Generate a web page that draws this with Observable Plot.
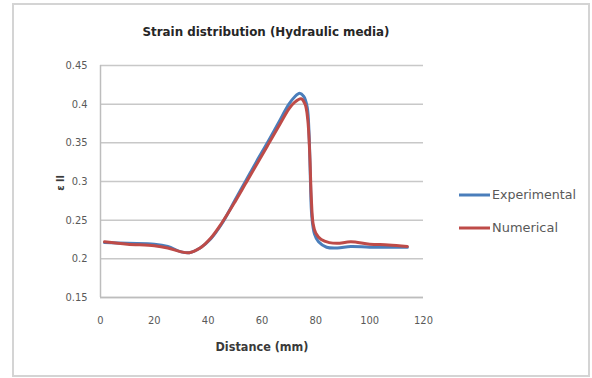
<!DOCTYPE html>
<html>
<head>
<meta charset="utf-8">
<script src="https://cdn.jsdelivr.net/npm/d3@7"></script>
<script src="https://cdn.jsdelivr.net/npm/@observablehq/plot@0.6"></script>
<style>
  html, body { margin: 0; padding: 0; background: #fff; }
  #wrap { position: relative; width: 592px; height: 378px; }
  #wrap svg { position: absolute; left: 0; top: 0; }
</style>
</head>
<body>
<div id="wrap"></div>
<script>
// Strain along the specimen, experimental vs numerical (hydraulic media)
const expDistance = [1.5, 10, 20, 25, 30, 33, 37, 41, 45, 50, 54, 58, 62, 66, 70, 72, 74, 75.5, 76.8, 77.5, 78, 78.5, 79.5, 81, 84, 88, 93, 100, 107, 114];
const expStrain   = [0.221, 0.220, 0.219, 0.216, 0.209, 0.208, 0.214, 0.226, 0.245, 0.276, 0.301, 0.326, 0.350, 0.375, 0.400, 0.409, 0.414, 0.410, 0.396, 0.360, 0.300, 0.255, 0.232, 0.222, 0.215, 0.214, 0.216, 0.215, 0.215, 0.215];

const numDistance = [1.5, 10, 20, 25, 30, 33, 37, 41, 45, 50, 54, 58, 62, 66, 70, 72, 74.5, 76, 77, 77.8, 78.3, 79, 80, 82, 85, 88, 93, 100, 107, 114];
const numStrain   = [0.222, 0.219, 0.217, 0.214, 0.209, 0.208, 0.214, 0.227, 0.246, 0.274, 0.298, 0.322, 0.346, 0.370, 0.394, 0.402, 0.407, 0.400, 0.380, 0.330, 0.280, 0.245, 0.233, 0.225, 0.221, 0.220, 0.222, 0.219, 0.218, 0.216];

const seriesNames = ["Experimental", "Numerical"];
const seriesColors = ["#4a7ebb", "#be4b48"];
const xTicks = [0, 20, 40, 60, 80, 100, 120];
const yTicks = [0.15, 0.2, 0.25, 0.3, 0.35, 0.4, 0.45];

const rows = [
  ...expDistance.map((d, i) => ({series: seriesNames[0], d, v: expStrain[i]})),
  ...numDistance.map((d, i) => ({series: seriesNames[1], d, v: numStrain[i]}))
];

const font = "'Liberation Sans Narrow', 'DejaVu Sans Condensed', 'Liberation Sans', sans-serif";

const chart = Plot.plot({
  width: 592,
  height: 378,
  marginLeft: 100,
  marginRight: 169,
  marginTop: 65,
  marginBottom: 81,
  style: {fontFamily: font, fontSize: "11px", color: "#595959", background: "transparent"},
  x: {domain: [0, 120], ticks: xTicks, label: null},
  y: {domain: [0.15, 0.45], ticks: yTicks, label: null},
  color: {domain: seriesNames, range: seriesColors},
  marks: [
    Plot.gridY(yTicks, {stroke: "#c8c8c8", strokeOpacity: 1, strokeWidth: 1.5}),
    Plot.ruleX([0], {stroke: "#bdbdbd", strokeWidth: 1.5}),
    Plot.ruleY([0.15], {stroke: "#bdbdbd", strokeWidth: 1.5}),
    Plot.axisX({ticks: xTicks, tickSize: 0, tickPadding: 19, label: null, fill: "#595959"}),
    Plot.axisY({ticks: yTicks, tickSize: 0, tickPadding: 13, tickFormat: d => String(+d.toFixed(2)), label: null, fill: "#595959"}),
    Plot.line(rows, {x: "d", y: "v", z: "series", stroke: "series", strokeWidth: 3, curve: "catmull-rom"})
  ]
});

const wrap = document.getElementById("wrap");
wrap.appendChild(chart);

// Frame, titles and legend drawn on a layer above the plot
const layer = d3.select(wrap).append("svg")
  .attr("width", 592).attr("height", 378)
  .style("font-family", font);

layer.append("rect")
  .attr("x", 13).attr("y", 4).attr("width", 576).attr("height", 372)
  .attr("fill", "none").attr("stroke", "#d4d4d4").attr("stroke-width", 2);

layer.append("text")
  .attr("x", 266).attr("y", 31).attr("dy", "0.35em")
  .attr("text-anchor", "middle")
  .attr("font-size", 13).attr("font-weight", "bold").attr("fill", "#262626")
  .attr("textLength", 247).attr("lengthAdjust", "spacingAndGlyphs")
  .text("Strain distribution (Hydraulic media)");

layer.append("text")
  .attr("x", 262).attr("y", 347).attr("dy", "0.35em")
  .attr("text-anchor", "middle")
  .attr("font-size", 11.5).attr("font-weight", "bold").attr("fill", "#3a3a3a")
  .attr("textLength", 93).attr("lengthAdjust", "spacingAndGlyphs")
  .text("Distance (mm)");

layer.append("text")
  .attr("transform", "translate(60,183) rotate(-90)")
  .attr("dy", "0.35em")
  .attr("text-anchor", "middle")
  .attr("font-size", 11).attr("font-weight", "bold").attr("fill", "#3a3a3a")
  .text("ε ll");

const legendY = [195, 228];
const legendWidths = [84, 66];
seriesNames.forEach((name, i) => {
  layer.append("line")
    .attr("x1", 459).attr("x2", 490).attr("y1", legendY[i]).attr("y2", legendY[i])
    .attr("stroke", seriesColors[i]).attr("stroke-width", 3);
  layer.append("text")
    .attr("x", 492).attr("y", legendY[i]).attr("dy", "0.35em")
    .attr("font-size", 11.5).attr("fill", "#595959")
    .attr("textLength", legendWidths[i]).attr("lengthAdjust", "spacingAndGlyphs")
    .text(name);
});
</script>
</body>
</html>
